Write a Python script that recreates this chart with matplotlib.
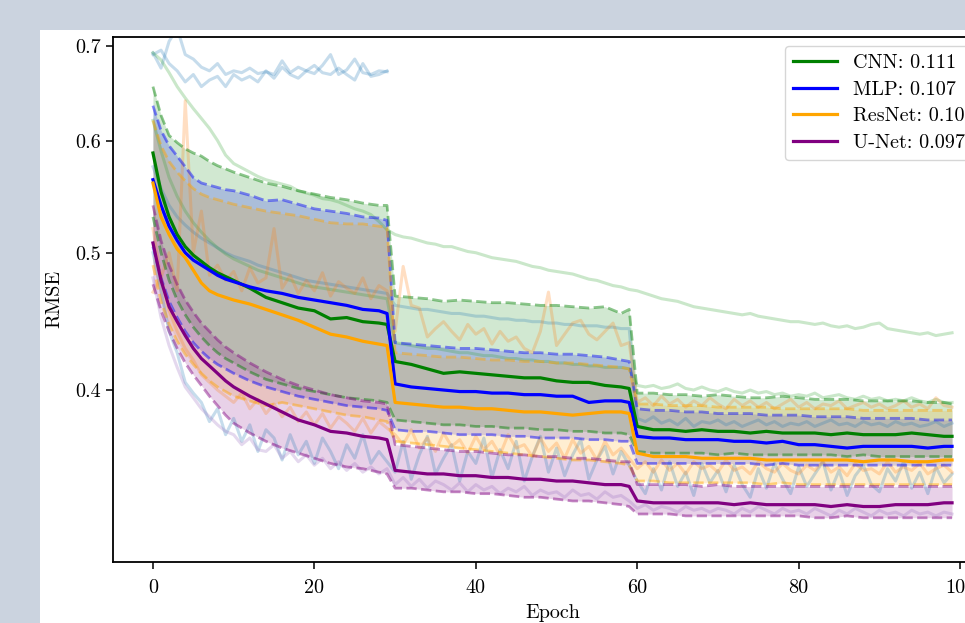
import numpy as np
import matplotlib
matplotlib.use("Agg")
import matplotlib.pyplot as plt
from matplotlib.patches import Rectangle

plt.rcParams['font.family'] = 'serif'
plt.rcParams['font.serif'] = ['cmr10']
plt.rcParams['mathtext.fontset'] = 'cm'
plt.rcParams['axes.formatter.use_mathtext'] = True

# epochs at which the mean / band curves were read
grid = [0, 1, 2, 3, 4, 5, 6, 7, 8, 9, 10, 12, 14, 16, 18, 20, 22, 24, 26, 28, 29,
        30, 32, 34, 36, 38, 40, 42, 44, 46, 48, 50, 52, 54, 56, 58, 59,
        60, 62, 64, 66, 68, 70, 72, 74, 76, 78, 80, 82, 84, 86, 88, 90, 92, 94, 96, 98, 99]

models = ['CNN', 'MLP', 'ResNet', 'U-Net']
scores = ['0.111', '0.107', '0.102', '0.097']

# CNN
cnn_mean = [.588, .552, .530, .515, .505, .498, .493, .488, .484, .481, .478, .472, .465, .461, .457, .455, .449, .450, .447, .446, .445,
            .419, .417, .414, .411, .412, .411, .410, .409, .408, .408, .406, .405, .405, .403, .402, .401,
            .377, .375, .375, .374, .375, .374, .374, .373, .374, .373, .373, .373, .372, .373, .372, .372, .372, .373, .372, .371, .371]
cnn_upper = [.655, .625, .605, .598, .592, .588, .585, .580, .576, .573, .570, .565, .560, .557, .553, .550, .547, .545, .542, .540, .540,
             .466, .465, .464, .462, .463, .462, .461, .461, .460, .459, .459, .458, .457, .458, .453, .456,
             .398, .398, .397, .397, .396, .397, .396, .395, .395, .396, .395, .394, .394, .394, .393, .393, .393, .393, .392, .392, .391]
cnn_lower = [.530, .500, .478, .463, .452, .443, .436, .430, .425, .421, .418, .412, .407, .404, .401, .399, .397, .395, .394, .393, .392,
             .381, .380, .379, .378, .378, .377, .377, .376, .376, .375, .375, .374, .374, .373, .373, .372,
             .362, .361, .361, .361, .361, .360, .361, .360, .360, .360, .360, .360, .360, .359, .360, .359, .359, .359, .359, .359, .359]

# MLP
mlp_mean = [.563, .540, .522, .510, .500, .494, .490, .486, .482, .479, .477, .473, .470, .468, .465, .463, .461, .459, .456, .455, .453,
            .404, .402, .401, .400, .399, .399, .398, .398, .397, .397, .396, .396, .392, .393, .393, .392,
            .371, .370, .370, .369, .369, .369, .368, .368, .367, .368, .366, .366, .365, .364, .365, .365, .365, .365, .364, .365, .365]
mlp_upper = [.635, .610, .595, .585, .575, .565, .560, .558, .556, .554, .553, .549, .544, .545, .541, .537, .535, .533, .530, .529, .527,
             .432, .431, .430, .429, .428, .428, .427, .426, .425, .425, .424, .424, .423, .422, .420, .419,
             .388, .387, .387, .386, .386, .385, .385, .385, .384, .384, .384, .383, .383, .383, .382, .382, .382, .382, .381, .381, .381]
mlp_lower = [.505, .480, .462, .450, .440, .432, .426, .421, .417, .414, .411, .406, .402, .399, .396, .394, .392, .390, .389, .388, .387,
             .375, .374, .374, .373, .372, .372, .372, .371, .371, .370, .370, .370, .369, .369, .368, .368,
             .355, .355, .355, .355, .355, .355, .355, .355, .354, .355, .354, .354, .354, .354, .354, .354, .354, .354, .354, .354, .354]

# ResNet
res_mean = [.560, .530, .515, .503, .496, .486, .476, .470, .467, .465, .463, .460, .456, .452, .448, .443, .438, .436, .433, .431, .430,
            .392, .391, .390, .389, .389, .388, .388, .387, .386, .386, .385, .384, .385, .386, .386, .385,
            .361, .359, .359, .359, .358, .358, .358, .358, .357, .357, .357, .357, .357, .357, .356, .357, .357, .356, .356, .357, .357]
res_upper = [.620, .595, .580, .570, .562, .555, .550, .547, .545, .543, .541, .538, .535, .533, .531, .528, .525, .524, .524, .522, .521,
             .425, .424, .423, .422, .422, .421, .420, .420, .419, .419, .418, .418, .417, .416, .415, .414,
             .391, .391, .390, .390, .390, .389, .389, .389, .389, .388, .388, .388, .388, .388, .387, .387, .387, .387, .387, .387, .387]
res_lower = [.490, .462, .445, .433, .424, .417, .411, .406, .402, .399, .396, .393, .390, .392, .390, .388, .386, .384, .383, .381, .380,
             .368, .367, .366, .365, .364, .363, .362, .361, .360, .359, .358, .357, .357, .356, .355, .354,
             .345, .345, .344, .344, .344, .344, .344, .344, .343, .344, .343, .343, .343, .343, .343, .343, .343, .343, .343, .343, .343]

# U-Net
unet_mean = [.508, .478, .458, .447, .437, .428, .421, .416, .411, .406, .402, .396, .391, .386, .381, .378, .374, .373, .371, .370, .369,
             .351, .350, .349, .349, .348, .348, .347, .347, .346, .346, .345, .345, .344, .343, .343, .342,
             .334, .333, .333, .333, .333, .333, .332, .333, .332, .332, .332, .332, .331, .332, .331, .331, .332, .332, .332, .333, .333]
unet_upper = [.540, .510, .490, .475, .463, .454, .446, .440, .434, .429, .425, .418, .412, .407, .403, .400, .397, .395, .393, .392, .391,
              .366, .365, .364, .363, .362, .362, .361, .360, .360, .359, .359, .358, .358, .357, .356, .356,
              .343, .343, .343, .343, .342, .343, .342, .342, .342, .342, .342, .342, .342, .342, .342, .342, .342, .342, .342, .342, .342]
unet_lower = [.475, .455, .440, .428, .418, .410, .403, .396, .390, .384, .379, .373, .368, .364, .361, .358, .355, .353, .352, .350, .349,
              .341, .341, .340, .339, .339, .338, .338, .337, .336, .336, .335, .334, .334, .333, .332, .331,
              .327, .327, .327, .326, .326, .326, .326, .326, .326, .326, .326, .325, .325, .326, .325, .325, .325, .325, .325, .325, .325]

# individual runs (faint lines)
run_blue_a = [.692, .675, .705, .720, .690, .685, .676, .672, .680, .668, .672, .670, .675, .669, .671,
              .668, .683, .670, .676, .672, .669, .678, .690, .668, .673, .685, .670, .668, .672, .671]
run_blue_b = [.690, .695, .680, .672, .660, .668, .655, .662, .666, .655, .668, .662, .666, .660, .672,
              .664, .676, .668, .664, .672, .678, .670, .668, .675, .668, .662, .680, .666, .668, .672]
run_green_slow = [.692, .684, .670, .655, .643, .632, .622, .612, .600, .586,
                  .578, .574, .570, .566, .563, .561, .559, .557, .553, .551,
                  .549, .546, .545, .543, .540, .537, .535, .532, .526, .519,
                  .515, .513, .512, .510, .508, .507, .505, .505, .503, .501,
                  .500, .498, .496, .495, .494, .493, .491, .489, .488, .486,
                  .485, .484, .483, .481, .479, .478, .476, .474, .473, .471,
                  .470, .468, .466, .464, .463, .462, .460, .458, .457, .456,
                  .455, .454, .453, .452, .453, .451, .450, .449, .448, .447,
                  .447, .446, .445, .446, .444, .443, .444, .442, .443, .445,
                  .446, .442, .441, .440, .439, .438, .439, .437, .438, .439]
run_blue_c = [.575, .555, .540, .530, .523, .517, .512, .508, .504, .500,
              .497, .495, .493, .490, .488, .486, .484, .482, .480, .478,
              .477, .476, .475, .474, .473, .472, .471, .470, .469, .468,
              .459, .458, .457, .456, .456, .455, .454, .453, .453, .452,
              .451, .451, .450, .449, .449, .448, .448, .447, .447, .446,
              .446, .445, .445, .444, .444, .444, .443, .443, .442, .442,
              .382, .380, .383, .379, .381, .378, .382, .377, .380, .379,
              .381, .378, .380, .377, .379, .381, .378, .380, .377, .379,
              .378, .380, .377, .379, .381, .378, .379, .377, .380, .378,
              .379, .377, .380, .378, .379, .377, .378, .380, .377, .379]
run_green_b = [.620, .590, .565, .548, .535, .525, .517, .510, .504, .499,
               .495, .492, .489, .486, .484, .482, .480, .478, .476, .474,
               .473, .472, .471, .470, .469, .468, .467, .466, .465, .464,
               .432, .431, .430, .429, .428, .428, .427, .426, .425, .425,
               .424, .423, .423, .422, .421, .421, .420, .420, .419, .419,
               .418, .418, .417, .417, .416, .416, .415, .415, .415, .414,
               .403, .402, .403, .401, .402, .404, .401, .400, .402, .400,
               .399, .401, .399, .398, .400, .398, .399, .397, .398, .396,
               .397, .396, .398, .395, .396, .397, .395, .394, .396, .394,
               .395, .393, .394, .393, .395, .393, .392, .394, .392, .392]
run_orange_spiky = [.469, .480, .500, .470, .640, .500, .535, .482, .490, .478,
                    .485, .470, .488, .476, .480, .520, .472, .482, .468, .478,
                    .470, .484, .466, .477, .472, .468, .480, .464, .474, .470,
                    .440, .489, .459, .457, .436, .442, .447, .440, .434, .445,
                    .438, .442, .431, .440, .433, .436, .428, .425, .440, .469,
                    .430, .438, .446, .448, .438, .434, .440, .446, .430, .432,
                    .392, .395, .390, .396, .391, .394, .389, .393, .390, .395,
                    .391, .388, .394, .390, .393, .389, .392, .388, .391, .394,
                    .389, .392, .388, .391, .390, .393, .388, .390, .392, .389,
                    .391, .388, .390, .393, .389, .391, .388, .395, .390, .389]
run_blue_zig = [.500, .470, .440, .425, .405, .398, .392, .380, .388, .372,
                .382, .368, .378, .362, .375, .370, .357, .372, .360, .368,
                .355, .370, .362, .352, .366, .358, .372, .355, .362, .356,
                .350, .368, .346, .360, .371, .349, .358, .366, .345, .362,
                .355, .370, .347, .363, .352, .368, .345, .359, .371, .350,
                .364, .348, .360, .369, .346, .357, .365, .349, .362, .354,
                .345, .338, .352, .340, .356, .342, .350, .337, .355, .344,
                .351, .339, .354, .343, .336, .352, .341, .355, .346, .338,
                .353, .342, .349, .356, .340, .351, .337, .348, .354, .343,
                .339, .352, .345, .356, .341, .350, .338, .353, .344, .349]
run_orange_zig = [.520, .480, .455, .440, .428, .420, .410, .405, .400, .396,
                  .392, .398, .388, .394, .385, .391, .383, .389, .380, .386,
                  .378, .385, .376, .383, .379, .374, .382, .373, .380, .376,
                  .372, .366, .375, .364, .370, .362, .373, .365, .369, .361,
                  .371, .363, .368, .360, .372, .364, .366, .359, .370, .362,
                  .367, .358, .369, .361, .365, .357, .368, .360, .364, .358,
                  .352, .356, .350, .357, .351, .355, .349, .356, .352, .354,
                  .350, .357, .351, .353, .349, .356, .352, .350, .355, .351,
                  .349, .354, .351, .356, .350, .353, .348, .355, .351, .352,
                  .349, .356, .350, .353, .351, .355, .349, .352, .354, .350]
run_purple = [.480, .450, .430, .415, .402, .395, .388, .383, .378, .374,
              .372, .366, .370, .363, .362, .366, .358, .362, .356, .360,
              .354, .358, .352, .356, .351, .355, .350, .353, .349, .352,
              .343, .347, .342, .346, .341, .345, .343, .340, .344, .339,
              .343, .340, .342, .338, .341, .339, .342, .337, .340, .338,
              .339, .336, .340, .337, .338, .335, .339, .336, .337, .334,
              .330, .332, .329, .331, .330, .328, .331, .329, .330, .328,
              .330, .329, .327, .330, .328, .331, .329, .327, .330, .328,
              .329, .327, .330, .328, .326, .329, .327, .330, .328, .326,
              .329, .327, .328, .326, .329, .327, .328, .326, .328, .327]

fig = plt.figure(figsize=(9.65, 6.23), dpi=100)
fig.patch.set_facecolor('#cbd3df')
fig.patches.append(Rectangle((40 / 965, 0), 1, 593 / 623, transform=fig.transFigure,
                             facecolor='white', edgecolor='none', zorder=-10))
ax = fig.add_axes([113 / 965, 61.3 / 623, 879 / 965, 524.7 / 623])
ax.set_zorder(1)

faint = [(run_blue_a, 'tab:blue'), (run_blue_b, 'tab:blue'), (run_green_slow, 'tab:green'),
         (run_blue_c, 'tab:blue'), (run_green_b, 'tab:green'), (run_orange_spiky, 'tab:orange'),
         (run_blue_zig, 'tab:blue'), (run_orange_zig, 'tab:orange'), (run_purple, 'tab:purple')]
for vals, c in faint:
    ax.plot(np.arange(len(vals)), vals, color=c, alpha=0.25, lw=2.2)

series = [('green', cnn_mean, cnn_lower, cnn_upper),
          ('blue', mlp_mean, mlp_lower, mlp_upper),
          ('orange', res_mean, res_lower, res_upper),
          ('purple', unet_mean, unet_lower, unet_upper)]

for c, m, lo, hi in series:
    ax.fill_between(grid, lo, hi, color=c, alpha=0.18, lw=0)
    ax.plot(grid, lo, color=c, ls='--', lw=2, alpha=0.45)
    ax.plot(grid, hi, color=c, ls='--', lw=2, alpha=0.45)

for (c, m, lo, hi), name, s in zip(series, models, scores):
    ax.plot(grid, m, color=c, lw=2.3, label=f'{name}: {s}')

ax.set_yscale('log')
ax.set_ylim(0.3026, 0.710)
ax.set_xlim(-4.95, 103.95)
ax.yaxis.set_minor_locator(matplotlib.ticker.NullLocator())
ax.set_yticks([0.4, 0.5, 0.6, 0.7])
ax.set_yticklabels(['0.4', '0.5', '0.6', '0.7'])
ax.set_xticks([0, 20, 40, 60, 80, 100])
ax.set_xticklabels(['0', '20', '40', '60', '80', '100'])
ax.tick_params(labelsize=14.5, length=5, width=1.1)
ax.tick_params(axis='x', pad=7.5)
ax.tick_params(axis='y', pad=4)
for sp in ax.spines.values():
    sp.set_linewidth(1.3)

ax.set_xlabel('Epoch', fontsize=14.5, labelpad=5)
ax.set_ylabel('RMSE', fontsize=14.5, labelpad=8)
ax.legend(loc='upper right', fontsize=14.5, handlelength=2.2, labelspacing=0.42,
          borderaxespad=0.45)

fig.savefig('out.png', dpi=100, facecolor=fig.get_facecolor())
